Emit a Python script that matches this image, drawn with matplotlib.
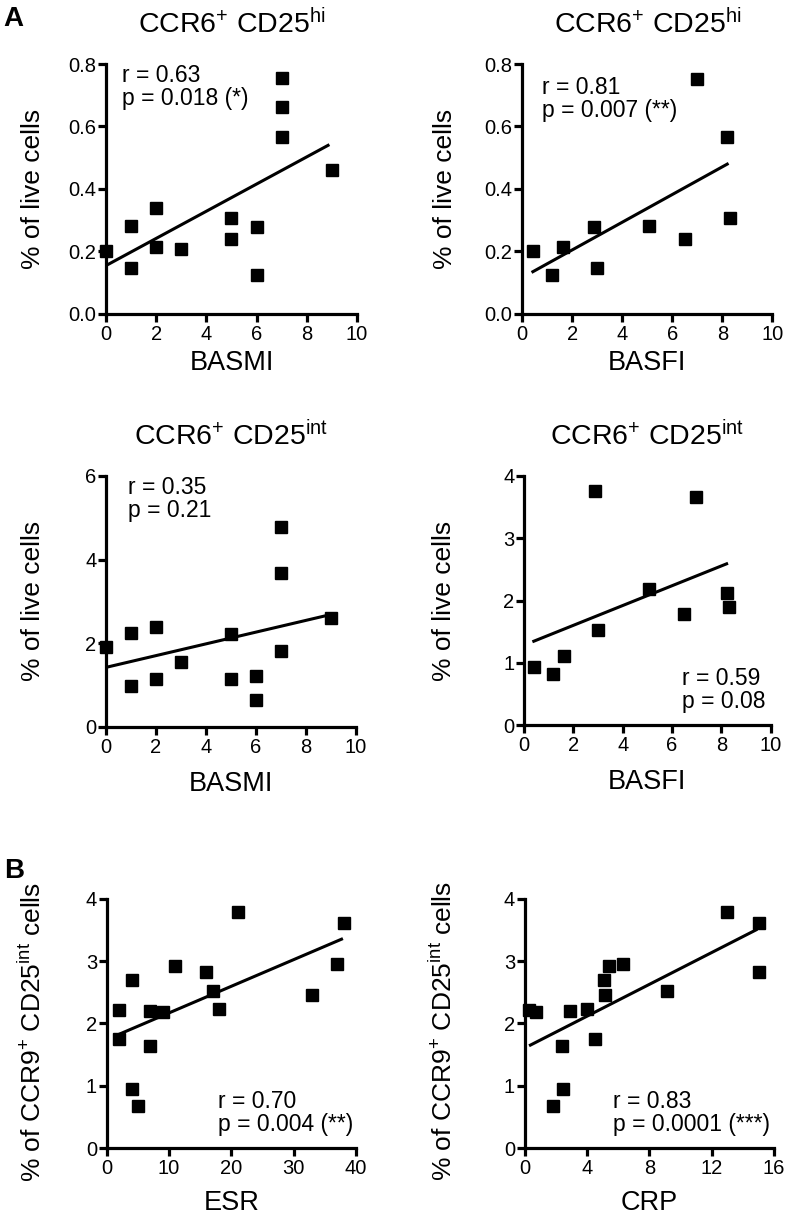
import matplotlib
matplotlib.use("Agg")
import matplotlib.pyplot as plt

plt.rcParams['font.family'] = ['Liberation Sans', 'DejaVu Sans']
plt.rcParams['mathtext.fontset'] = 'custom'
plt.rcParams['mathtext.rm'] = 'Liberation Sans'
plt.rcParams['mathtext.it'] = 'Liberation Sans:italic'
plt.rcParams['mathtext.bf'] = 'Liberation Sans:bold'

# ---------------- data ----------------
basmi_hi_x = [0, 1, 1, 2, 2, 3, 5, 5, 6, 6, 7, 7, 7, 9]
basmi_hi_y = [0.203, 0.283, 0.146, 0.340, 0.214, 0.207, 0.308, 0.240, 0.279, 0.124, 0.755, 0.661, 0.566, 0.461]
basmi_hi_fit_x = [0, 8.9]
basmi_hi_fit_y = [0.155, 0.542]

basfi_hi_x = [0.44, 1.2, 1.64, 2.88, 2.99, 5.05, 6.49, 6.99, 8.2, 8.32]
basfi_hi_y = [0.203, 0.124, 0.215, 0.279, 0.146, 0.281, 0.239, 0.753, 0.565, 0.308]
basfi_hi_fit_x = [0.37, 8.25]
basfi_hi_fit_y = [0.133, 0.482]

basmi_int_x = [0, 1, 1, 2, 2, 3, 5, 5, 6, 6, 7, 7, 7, 9]
basmi_int_y = [1.915, 2.25, 0.97, 2.39, 1.13, 1.56, 2.22, 1.15, 1.21, 0.65, 4.79, 3.68, 1.80, 2.59]
basmi_int_fit_x = [0, 8.96]
basmi_int_fit_y = [1.42, 2.68]

basfi_int_x = [0.42, 1.19, 1.64, 2.88, 3.01, 5.07, 6.5, 6.99, 8.22, 8.32]
basfi_int_y = [0.93, 0.82, 1.11, 3.76, 1.53, 2.19, 1.78, 3.67, 2.13, 1.90]
basfi_int_fit_x = [0.34, 8.27]
basfi_int_fit_y = [1.34, 2.60]

esr_x = [2, 2, 4, 4, 5, 7, 7, 9, 11, 16, 17, 18, 21, 33, 37, 38]
esr_y = [2.22, 1.75, 2.70, 0.94, 0.67, 2.20, 1.64, 2.19, 2.92, 2.82, 2.52, 2.23, 3.78, 2.45, 2.95, 3.61]
esr_fit_x = [1.87, 37.9]
esr_fit_y = [1.82, 3.36]

crp_x = [0.28, 0.75, 1.8, 2.42, 2.48, 2.9, 3.98, 4.49, 5.09, 5.18, 5.41, 6.29, 9.11, 13.0, 15.04, 15.04]
crp_y = [2.22, 2.19, 0.67, 1.64, 0.94, 2.20, 2.23, 1.75, 2.70, 2.45, 2.92, 2.95, 2.52, 3.78, 3.61, 2.82]
crp_fit_x = [0.28, 14.93]
crp_fit_y = [1.64, 3.51]

title_hi = r'CCR6$^{+}$ CD25$^{\mathrm{hi}}$'
title_int = r'CCR6$^{+}$ CD25$^{\mathrm{int}}$'
ylab_live = '% of live cells'
ylab_ccr9 = r'% of CCR9$^{+}$ CD25$^{\mathrm{int}}$ cells'

xt_10 = [0, 2, 4, 6, 8, 10]
yt_08 = [0.0, 0.2, 0.4, 0.6, 0.8]
yt_6 = [0, 2, 4, 6]
yt_4 = [0, 1, 2, 3, 4]
xt_40 = [0, 10, 20, 30, 40]
xt_16 = [0, 4, 8, 12, 16]

W, H = 788, 1219
fig = plt.figure(figsize=(W / 100, H / 100), dpi=100)


def rect(l, r, t, b):
    return [l / W, 1 - b / H, (r - l) / W, (b - t) / H]


panels = [
    dict(rect=rect(106, 357, 64, 314), x=basmi_hi_x, y=basmi_hi_y, fx=basmi_hi_fit_x, fy=basmi_hi_fit_y,
         xt=xt_10, yt=yt_08, yfmt='{:.1f}', title=title_hi, xlabel='BASMI', ylabel=ylab_live,
         xlab_y=-49 / 250, ylab_x=-0.29, ylab_yc=0.5,
         txt='r = 0.63\np = 0.018 (*)', tx=0.064, ty=1.0, tva='top'),
    dict(rect=rect(522.3, 772.3, 64, 314), x=basfi_hi_x, y=basfi_hi_y, fx=basfi_hi_fit_x, fy=basfi_hi_fit_y,
         xt=xt_10, yt=yt_08, yfmt='{:.1f}', title=title_hi, xlabel='BASFI', ylabel=ylab_live,
         xlab_y=-49 / 250, ylab_x=-0.31, ylab_yc=0.5,
         txt='r = 0.81\np = 0.007 (**)', tx=0.078, ty=0.95, tva='top'),
    dict(rect=rect(106, 356, 476, 726.7), x=basmi_int_x, y=basmi_int_y, fx=basmi_int_fit_x, fy=basmi_int_fit_y,
         xt=xt_10, yt=yt_6, yfmt='{:.0f}', title=title_int, xlabel='BASMI', ylabel=ylab_live,
         xlab_y=-57 / 250, ylab_x=-0.29, ylab_yc=0.5,
         txt='r = 0.35\np = 0.21', tx=0.087, ty=1.0, tva='top'),
    dict(rect=rect(524, 770.7, 476, 725.3), x=basfi_int_x, y=basfi_int_y, fx=basfi_int_fit_x, fy=basfi_int_fit_y,
         xt=xt_10, yt=yt_4, yfmt='{:.0f}', title=title_int, xlabel='BASFI', ylabel=ylab_live,
         xlab_y=-57 / 250, ylab_x=-0.324, ylab_yc=0.5,
         txt='r = 0.59\np = 0.08', tx=0.64, ty=0.05, tva='bottom'),
    dict(rect=rect(106.7, 356, 898.7, 1148), x=esr_x, y=esr_y, fx=esr_fit_x, fy=esr_fit_y,
         xt=xt_40, yt=yt_4, yfmt='{:.0f}', title=None, xlabel='ESR', ylabel=ylab_ccr9,
         xlab_y=-55 / 250, ylab_x=-0.296, ylab_yc=0.464,
         txt='r = 0.70\np = 0.004 (**)', tx=0.446, ty=0.05, tva='bottom'),
    dict(rect=rect(524.7, 774, 898.7, 1148), x=crp_x, y=crp_y, fx=crp_fit_x, fy=crp_fit_y,
         xt=xt_16, yt=yt_4, yfmt='{:.0f}', title=None, xlabel='CRP', ylabel=ylab_ccr9,
         xlab_y=-55 / 250, ylab_x=-0.324, ylab_yc=0.47,
         txt='r = 0.83\np = 0.0001 (***)', tx=0.355, ty=0.05, tva='bottom'),
]

LW = 2.3
for p in panels:
    ax = fig.add_axes(p['rect'])
    ax.plot(p['x'], p['y'], 's', color='black', ms=9, clip_on=False, zorder=3)
    ax.plot(p['fx'], p['fy'], '-', color='black', lw=2.2, solid_capstyle='butt', zorder=2)
    ax.set_xlim(p['xt'][0], p['xt'][-1])
    ax.set_ylim(p['yt'][0], p['yt'][-1])
    ax.set_xticks(p['xt'])
    ax.set_yticks(p['yt'])
    ax.set_yticklabels([p['yfmt'].format(v) for v in p['yt']])
    for s in ['top', 'right']:
        ax.spines[s].set_visible(False)
    for s in ['left', 'bottom']:
        ax.spines[s].set_linewidth(LW)
        ax.spines[s].set_capstyle('projecting')
    ax.tick_params(axis='both', direction='out', length=6, width=LW, labelsize=14.5, color='black')
    ax.tick_params(axis='x', pad=2)
    ax.tick_params(axis='y', pad=1)
    ax.patch.set_visible(False)
    if p['title']:
        ax.set_title(p['title'], fontsize=20.5, pad=22)
    ax.set_xlabel(p['xlabel'], fontsize=19.5, va='center')
    ax.xaxis.set_label_coords(0.5, p['xlab_y'])
    ax.set_ylabel(p['ylabel'], fontsize=19, va='center', ha='center')
    ax.yaxis.set_label_coords(p['ylab_x'], p['ylab_yc'])
    ax.text(p['tx'], p['ty'], p['txt'], transform=ax.transAxes, fontsize=16.5,
            ha='left', va=p['tva'], linespacing=1.0)

fig.text(3 / W, 1 - 18.5 / H, 'A', fontsize=20, fontweight='bold', ha='left', va='center')
fig.text(4 / W, 1 - 871 / H, 'B', fontsize=20, fontweight='bold', ha='left', va='center')

fig.savefig('out.png', dpi=100)
